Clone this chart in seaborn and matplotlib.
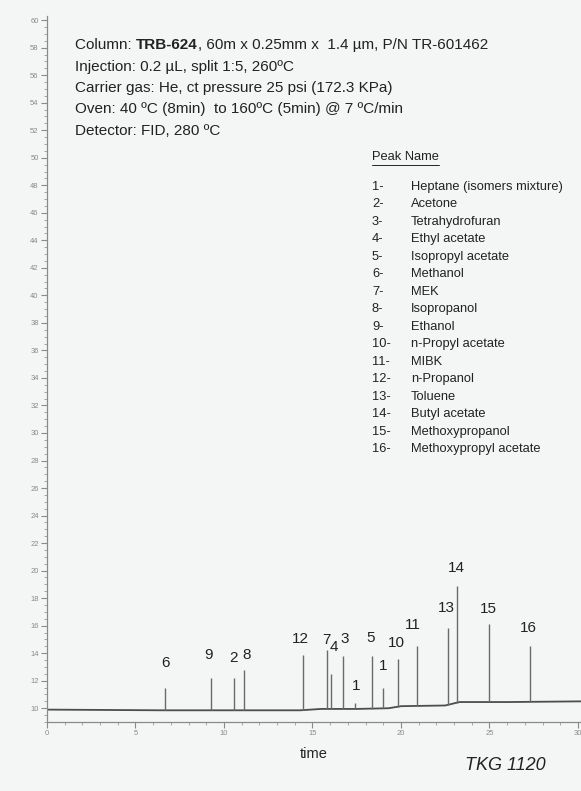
import numpy as np
import pandas as pd
import seaborn as sns
import matplotlib.pyplot as plt
from matplotlib.lines import Line2D
from matplotlib.ticker import MultipleLocator

# peaks (retention time in min, apex height)
peak_names = ["6", "9", "2", "8", "12", "7", "4", "3", "1", "5", "1",
              "10", "11", "13", "14", "15", "16"]
peak_time = [6.67, 9.27, 10.56, 11.13, 14.46, 15.82, 16.05, 16.72, 17.40,
             18.36, 18.98, 19.83, 20.90, 22.66, 23.16, 24.97, 27.29]
peak_top = [11.5, 12.2, 12.2, 12.8, 13.9, 14.2, 12.5, 13.8, 10.4,
            13.8, 11.5, 13.6, 14.5, 15.8, 18.9, 16.1, 14.5]

# detector baseline
base_time = [0, 6.5, 14.3, 15.5, 17.5, 19.3, 20.0, 22.5, 23.3, 26.0, 30.2]
base_level = [9.9, 9.85, 9.85, 9.95, 9.95, 10.0, 10.15, 10.2, 10.45, 10.45, 10.5]

compounds = ["Heptane (isomers mixture)", "Acetone", "Tetrahydrofuran",
             "Ethyl acetate", "Isopropyl acetate", "Methanol", "MEK",
             "Isopropanol", "Ethanol", "n-Propyl acetate", "MIBK",
             "n-Propanol", "Toluene", "Butyl acetate", "Methoxypropanol",
             "Methoxypropyl acetate"]

conditions = [
    "Injection: 0.2 \u00b5L, split 1:5, 260\u00baC",
    "Carrier gas: He, ct pressure 25 psi (172.3 KPa)",
    "Oven: 40 \u00baC (8min)  to 160\u00baC (5min) @ 7 \u00baC/min",
    "Detector: FID, 280 \u00baC",
]

# label placement (time, height) for each peak number
label_xy = [(6.67, 13.3), (9.15, 13.9), (10.51, 13.65), (11.3, 13.9),
            (14.29, 15.05), (15.76, 14.95), (16.21, 14.45), (16.84, 15.05),
            (17.46, 11.6), (18.31, 15.1), (18.98, 13.05), (19.72, 14.75),
            (20.68, 16.05), (22.54, 17.3), (23.11, 20.2), (24.92, 17.2),
            (27.18, 15.8)]

bg = "#f4f5f5"
sns.set_style("ticks")
plt.rcParams["font.family"] = ["Liberation Sans", "DejaVu Sans"]

W, H = 581, 791
fig = plt.figure(figsize=(W / 100, H / 100), dpi=100, facecolor=bg)
ax = fig.add_axes([47 / W, 1 - 722 / H, (W - 47) / W, (722 - 16) / H])
ax.set_facecolor(bg)

df_base = pd.DataFrame({"time": base_time, "signal": base_level})
sns.lineplot(data=df_base, x="time", y="signal", color="#4d4d4d", lw=1.3, ax=ax)

foot = np.interp(peak_time, base_time, base_level)
ax.vlines(peak_time, foot, peak_top, color="#6a6a6a", lw=1.0)

for name, (lx, ly) in zip(peak_names, label_xy):
    ax.text(lx, ly, name, ha="center", va="center", fontsize=11, color="#222222")

ax.set_xlim(0, 30.17)
ax.set_ylim(9.0, 60.3)
ax.set_xticks([0, 5, 10, 15, 20, 25, 30])
ax.set_yticks(np.arange(10, 61, 2))
ax.xaxis.set_minor_locator(MultipleLocator(1))
ax.yaxis.set_minor_locator(MultipleLocator(0.5))
ax.tick_params(axis="both", which="major", labelsize=5.5, colors="#8a8a8a",
               length=4, width=0.8, pad=2)
ax.tick_params(axis="both", which="minor", colors="#9a9a9a", length=2, width=0.6)
ax.set_xlabel("time", fontsize=10.5, color="#222222", labelpad=7)
ax.set_ylabel("")
for s in ["top", "right"]:
    ax.spines[s].set_visible(False)
for s in ["left", "bottom"]:
    ax.spines[s].set_color("#8a8a8a")
    ax.spines[s].set_linewidth(0.9)

# method conditions block
fs = 11
fx = 75 / W
t0 = fig.text(fx, 1 - 45 / H, "Column: ", fontsize=fs, va="center", color="#222222")
t1 = ax.annotate("TRB-624", xy=(1, 0), xycoords=t0, va="bottom", fontsize=fs,
                 fontweight="bold", color="#222222")
ax.annotate(", 60m x 0.25mm x  1.4 \u00b5m, P/N TR-601462", xy=(1, 0), xycoords=t1,
            va="bottom", fontsize=fs, color="#222222")
for i, line in enumerate(conditions):
    fig.text(fx, 1 - (67 + 21.2 * i) / H, line, fontsize=fs, va="center", color="#222222")

# peak name table
hdr = fig.text(372 / W, 1 - 157 / H, "Peak Name", fontsize=9.3, va="center", color="#222222")
fig.canvas.draw()
bb = hdr.get_window_extent().transformed(fig.transFigure.inverted())
fig.add_artist(Line2D([bb.x0, bb.x1], [bb.y0 - 0.002, bb.y0 - 0.002],
                      transform=fig.transFigure, color="#222222", lw=0.7))
for i, name in enumerate(compounds):
    y = 1 - (187 + 17.47 * i) / H
    fig.text(372 / W, y, f"{i + 1}-", fontsize=9.3, va="center", color="#222222")
    fig.text(411 / W, y, name, fontsize=9.3, va="center", color="#222222")

fig.text(505 / W, 1 - 765 / H, "TKG 1120", fontsize=13, fontstyle="italic",
         ha="center", va="center", color="#222222")

plt.savefig("out.png", dpi=100, facecolor=bg)
